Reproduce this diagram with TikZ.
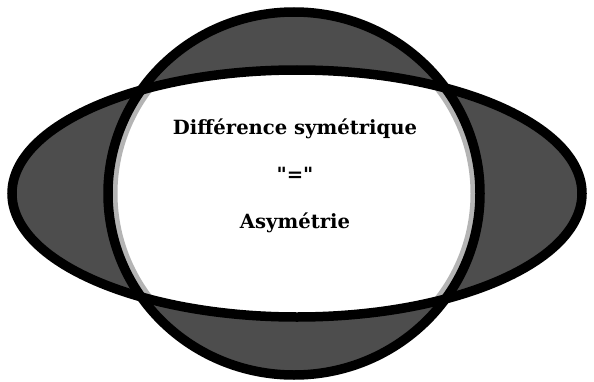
\documentclass[tikz,border=0pt]{standalone}
\usepackage{fontspec}
\newfontfamily\labelfont{DejaVu Serif}
\begin{document}
\begin{tikzpicture}[x=1pt,y=1pt,
  label/.style={font=\labelfont\fontsize{19.6}{23}\selectfont\bfseries, inner sep=0pt, anchor=base},
  outline/.style={line width=9.5pt, black}]
\definecolor{darkfill}{HTML}{4D4D4D}
\definecolor{rim}{HTML}{B4B4B4}
\useasboundingbox (0,0) rectangle (594,381);
\coordinate (ch) at (297,187.5);
\coordinate (cv) at (294,187.5);
% symmetric difference fill
\fill[darkfill] (ch) ellipse [x radius=285pt, y radius=123.5pt];
\fill[darkfill] (cv) ellipse [x radius=186pt, y radius=181.5pt];
\begin{scope}
  \clip (ch) ellipse [x radius=285pt, y radius=123.5pt];
  \fill[white] (cv) ellipse [x radius=186pt, y radius=181.5pt];
  \clip (cv) ellipse [x radius=186pt, y radius=181.5pt];
  \draw[rim, line width=19pt] (cv) ellipse [x radius=186pt, y radius=181.5pt];
\end{scope}
\draw[outline] (ch) ellipse [x radius=285pt, y radius=123.5pt];
\draw[outline] (cv) ellipse [x radius=186pt, y radius=181.5pt];
\node[label] (t1) at (295,247) {Différence symétrique};
\node[label] (t2) at (295,200) {"="};
\node[label] (t3) at (295,153) {Asymétrie};
\end{tikzpicture}
\end{document}
